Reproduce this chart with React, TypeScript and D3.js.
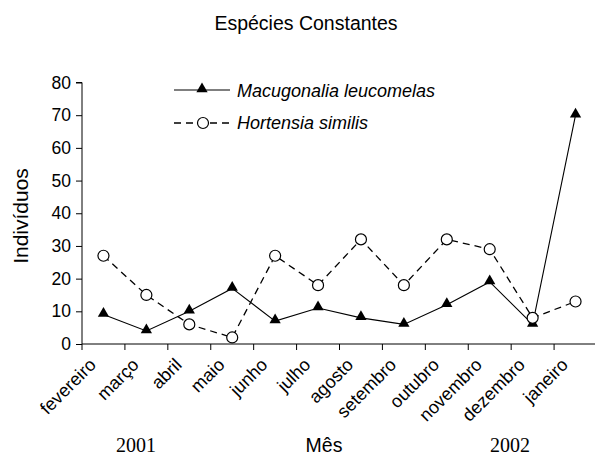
import React, { useEffect, useRef } from 'react';
import * as d3 from 'd3';

const months = [
  'fevereiro', 'março', 'abril', 'maio', 'junho', 'julho',
  'agosto', 'setembro', 'outubro', 'novembro', 'dezembro', 'janeiro',
];
const macugonalia = [9, 4, 10, 17, 7, 11, 8, 6, 12, 19, 6, 70];
const hortensia = [27, 15, 6, 2, 27, 18, 32, 18, 32, 29, 8, 13];
const yTicks = [0, 10, 20, 30, 40, 50, 60, 70, 80];

const W = 595;
const H = 456;
const font = 'Arial, "Liberation Sans", sans-serif';
const serif = '"Liberation Serif", "Times New Roman", serif';

const App: React.FC = () => {
  const svgRef = useRef<SVGSVGElement>(null);

  useEffect(() => {
    const svg = d3.select(svgRef.current);
    svg.selectAll('*').remove();

    const x = d3.scaleBand<string>().domain(months).range([82, 597]);
    const y = d3.scaleLinear().domain([0, 80]).range([344, 82.5]);
    const cx = (m: string) => (x(m) || 0) + x.bandwidth() / 2;

    // title
    svg.append('text')
      .attr('x', 306).attr('y', 30)
      .attr('text-anchor', 'middle')
      .style('font-family', font).style('font-size', '19.5px')
      .text('Espécies Constantes');

    // y axis
    const yAxis = d3.axisLeft(y).tickValues(yTicks).tickSize(6).tickPadding(5);
    const gy = svg.append('g').attr('transform', 'translate(82,0)').call(yAxis);
    gy.select('.domain').attr('d', `M-6,${y(80)}H0V${y(0)}`);
    gy.selectAll('text').style('font-family', font).style('font-size', '17.5px').attr('fill', '#000');

    // x axis (ticks sit between months)
    const xAxis = d3.axisBottom(x).tickSize(0).tickFormat(() => '');
    const gx = svg.append('g').attr('transform', 'translate(0,344)').call(xAxis);
    gx.select('.domain').attr('d', `M82,0H597`);
    gx.selectAll('.tick').remove();
    svg.append('g')
      .selectAll('line')
      .data(months)
      .join('line')
      .attr('x1', (d) => x(d) || 0).attr('x2', (d) => x(d) || 0)
      .attr('y1', 344).attr('y2', 350)
      .attr('stroke', '#000');

    svg.append('g')
      .selectAll('text')
      .data(months)
      .join('text')
      .attr('x', (d) => cx(d) - 6.5)
      .attr('y', 366)
      .attr('transform', (d) => `rotate(-45, ${cx(d) - 6.5}, 366)`)
      .attr('text-anchor', 'end')
      .style('font-family', font).style('font-size', '18px')
      .text((d) => d);

    // y label
    svg.append('text')
      .attr('transform', 'translate(28,216) rotate(-90)')
      .attr('text-anchor', 'middle')
      .style('font-family', font).style('font-size', '21px')
      .text('Indivíduos');

    // bottom labels
    svg.append('text').attr('x', 136).attr('y', 452).attr('text-anchor', 'middle')
      .style('font-family', serif).style('font-size', '20px')
      .text('2001');
    svg.append('text').attr('x', 510).attr('y', 452).attr('text-anchor', 'middle')
      .style('font-family', serif).style('font-size', '20px')
      .text('2002');
    svg.append('text').attr('x', 324).attr('y', 452).attr('text-anchor', 'middle')
      .style('font-family', font).style('font-size', '19.5px')
      .text('Mês');

    const line = d3.line<number>().x((_, i) => cx(months[i])).y((d) => y(d));

    // hortensia dashed
    svg.append('path')
      .attr('d', line(hortensia) || '')
      .attr('fill', 'none').attr('stroke', '#000').attr('stroke-width', 1.3)
      .attr('stroke-dasharray', '7,5');
    // macugonalia solid
    svg.append('path')
      .attr('d', line(macugonalia) || '')
      .attr('fill', 'none').attr('stroke', '#000').attr('stroke-width', 1.1);

    const tri = d3.symbol().type(d3.symbolTriangle).size(55);
    svg.append('g')
      .selectAll('path')
      .data(macugonalia)
      .join('path')
      .attr('d', tri() || '')
      .attr('transform', (d, i) => `translate(${cx(months[i])},${y(d) - 1})`)
      .attr('fill', '#000');

    svg.append('g')
      .selectAll('circle')
      .data(hortensia)
      .join('circle')
      .attr('cx', (_, i) => cx(months[i])).attr('cy', (d) => y(d))
      .attr('r', 5.5)
      .attr('fill', '#fff').attr('stroke', '#000').attr('stroke-width', 1.2);

    // legend
    const lg = svg.append('g');
    lg.append('line').attr('x1', 174).attr('x2', 230).attr('y1', 90).attr('y2', 90)
      .attr('stroke', '#000').attr('stroke-width', 1.1);
    lg.append('path').attr('d', tri() || '').attr('transform', 'translate(202,89)');
    lg.append('text').attr('x', 237).attr('y', 97)
      .style('font-family', font).style('font-size', '18px').style('font-style', 'italic')
      .text('Macugonalia leucomelas');
    lg.append('line').attr('x1', 174).attr('x2', 230).attr('y1', 123).attr('y2', 123)
      .attr('stroke', '#000').attr('stroke-width', 1.3).attr('stroke-dasharray', '7,5');
    lg.append('circle').attr('cx', 203).attr('cy', 123).attr('r', 5.5)
      .attr('fill', '#fff').attr('stroke', '#000').attr('stroke-width', 1.2);
    lg.append('text').attr('x', 237).attr('y', 129)
      .style('font-family', font).style('font-size', '18px').style('font-style', 'italic')
      .text('Hortensia similis');
  }, []);

  return (
    <svg
      ref={svgRef}
      width={W}
      height={H}
      style={{ position: 'absolute', left: 0, top: 0, background: '#fff' }}
    />
  );
};

export default App;
